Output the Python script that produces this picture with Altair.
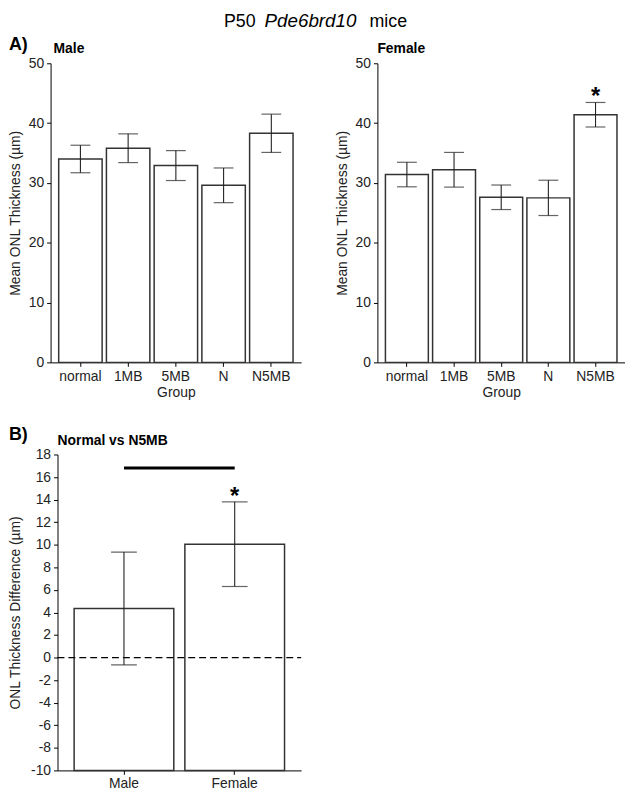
import altair as alt
import pandas as pd

# ---------------- data ----------------
groups = ["normal", "1MB", "5MB", "N", "N5MB"]
male_mean = [34.0, 35.8, 32.9, 29.6, 38.3]
male_err = [2.3, 2.4, 2.5, 2.9, 3.2]
female_mean = [31.4, 32.2, 27.6, 27.5, 41.4]
female_err = [2.05, 2.9, 2.05, 2.95, 2.05]

sexes = ["Male", "Female"]
diff_mean = [4.35, 10.05]
diff_err = [5.0, 3.75]

a_ticks = [0, 10, 20, 30, 40, 50]
b_ticks = [-10, -8, -6, -4, -2, 0, 2, 4, 6, 8, 10, 12, 14, 16, 18]

a_star_group = ["N5MB"]
a_star_y = [43.2]
b_star_group = ["Female"]
b_star_y = [13.6]
sig_line_y = [16.8, 16.8]

FONT = "Liberation Sans"
INK = "#222222"
A_H = 302
B_H = 319


def err_df(cats, mean, err, key):
    return pd.DataFrame({
        key: cats,
        "mean": mean,
        "lo": [m - e for m, e in zip(mean, err)],
        "hi": [m + e for m, e in zip(mean, err)],
    })


def label(text, x, y, size=14, weight="bold", style="normal"):
    return alt.Chart(pd.DataFrame({"t": [text]})).mark_text(
        font=FONT, fontSize=size, fontWeight=weight, fontStyle=style,
        align="left", baseline="alphabetic", color="#000").encode(
        text="t:N", x=alt.value(x), y=alt.value(y))


def panel_a(mean, err, extra, width):
    df = err_df(groups, mean, err, "group")
    ytitle = "Mean ONL Thickness (µm)"
    xenc = alt.X("group:N", sort=groups, title="Group",
                 scale=alt.Scale(paddingInner=0.09, paddingOuter=0.17),
                 axis=alt.Axis(labelAngle=0, labelPadding=3, titlePadding=2))
    yscale = alt.Scale(domain=[0, 50], nice=False)
    yaxis = alt.Axis(values=a_ticks, labelPadding=3, titlePadding=6)

    def Y(f):
        return alt.Y(f, title=ytitle, scale=yscale, axis=yaxis)

    base = alt.Chart(df)
    bars = base.mark_bar(fill="white", stroke="#333333", strokeWidth=1.5).encode(
        x=xenc, y=Y("mean:Q"))
    rule = base.mark_rule(color=INK, strokeWidth=1.1).encode(
        x=xenc, y=Y("lo:Q"), y2="hi:Q")
    cap_lo = base.mark_tick(size=20, thickness=1.2, color=INK).encode(
        x=xenc, y=Y("lo:Q"))
    cap_hi = base.mark_tick(size=20, thickness=1.2, color=INK).encode(
        x=xenc, y=Y("hi:Q"))
    layers = [bars, rule, cap_lo, cap_hi] + extra(xenc, Y)
    return alt.layer(*layers).properties(width=width, height=A_H)


def male_extra(xenc, Y):
    return [
        label("A)", -42, -13, size=18),
        label("Male", 3, -10, size=14),
        label("P50", 175, -37, size=18, weight="normal"),
        label("Pde6brd10", 216, -37, size=19, weight="normal", style="italic"),
        label("mice", 322, -37, size=18, weight="normal"),
    ]


def female_extra(xenc, Y):
    sdf = pd.DataFrame({"group": a_star_group, "y": a_star_y, "t": ["*"]})
    star = alt.Chart(sdf).mark_text(font=FONT, fontSize=24, fontWeight="bold",
                                    baseline="alphabetic", color="#000").encode(
        x=xenc, y=Y("y:Q"), text="t:N")
    return [star, label("Female", 0, -10, size=14)]


male = panel_a(male_mean, male_err, male_extra, 253)
female = panel_a(female_mean, female_err, female_extra, 250)

# ---------------- panel B ----------------
bdf = err_df(sexes, diff_mean, diff_err, "sex")
bt = "ONL Thickness Difference (µm)"
bx = alt.X("sex:N", sort=sexes, title=None,
           scale=alt.Scale(range=[7, 253], paddingInner=0.1, paddingOuter=0.15),
           axis=alt.Axis(labelAngle=0, labelPadding=2))
bscale = alt.Scale(domain=[-10, 18], nice=False)
baxis = alt.Axis(values=b_ticks, labelPadding=3, titlePadding=8, offset=-7,
                 labelExpr="toString(datum.value)")


def BY(f):
    return alt.Y(f, title=bt, scale=bscale, axis=baxis)


bb = alt.Chart(bdf)
b_bars = bb.mark_bar(fill="white", stroke="#333333", strokeWidth=1.5).encode(
    x=bx, y=BY("mean:Q"), y2=alt.datum(-10))
b_zero = alt.Chart(pd.DataFrame({"z": [0]})).mark_rule(
    color="#000", strokeWidth=1.3, strokeDash=[7, 4]).encode(
    y=BY("z:Q"), x=alt.value(7), x2=alt.value(253))
b_rule = bb.mark_rule(color=INK, strokeWidth=1.1).encode(
    x=bx, y=BY("lo:Q"), y2="hi:Q")
b_lo = bb.mark_tick(size=26, thickness=1.2, color=INK).encode(x=bx, y=BY("lo:Q"))
b_hi = bb.mark_tick(size=26, thickness=1.2, color=INK).encode(x=bx, y=BY("hi:Q"))
b_line = alt.Chart(pd.DataFrame({"sex": sexes, "y": sig_line_y})).mark_line(
    color="#000", strokeWidth=3).encode(x=bx, y=BY("y:Q"))
b_star = alt.Chart(pd.DataFrame({"sex": b_star_group, "y": b_star_y, "t": ["*"]})).mark_text(
    font=FONT, fontSize=24, fontWeight="bold", baseline="alphabetic", color="#000").encode(
    x=bx, y=BY("y:Q"), text="t:N")

panel_b = alt.layer(
    b_bars, b_zero, b_rule, b_lo, b_hi, b_line, b_star,
    label("B)", -42, -15, size=18),
    label("Normal vs N5MB", 7, -10, size=14),
).properties(width=253, height=B_H)

chart = alt.concat(
    male, female, panel_b, columns=2, bounds="flush",
    spacing=alt.RowColnumber(row=93, column=77),
).properties(padding=0).configure_view(
    stroke=None
).configure_axis(
    grid=False, domainColor="#000", tickColor="#000", labelColor=INK, titleColor=INK,
    labelFont=FONT, titleFont=FONT, labelFontSize=14, titleFontSize=14,
    titleFontWeight="normal", tickSize=4, domainWidth=1, tickWidth=1
)

chart.save("out.html", embed_options={"renderer": "svg", "actions": False})
